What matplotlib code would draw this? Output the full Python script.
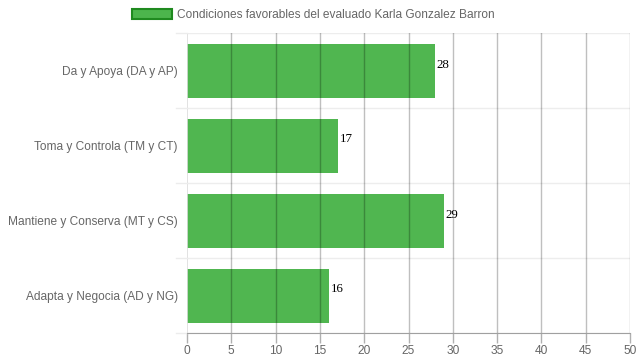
import matplotlib
matplotlib.use("Agg")
import matplotlib.pyplot as plt
from matplotlib.patches import Patch

categories = ["Da y Apoya (DA y AP)", "Toma y Controla (TM y CT)",
              "Mantiene y Conserva (MT y CS)", "Adapta y Negocia (AD y NG)"]
values = [28, 17, 29, 16]
series_label = "Condiciones favorables del evaluado Karla Gonzalez Barron"
xticks = list(range(0, 55, 5))

plt.rcParams['font.family'] = ['Liberation Sans', 'DejaVu Sans']

fig = plt.figure(figsize=(6.39, 3.6), dpi=100)
ax = fig.add_axes([187/639, 1-333/360, (630-187)/639, 300/360])

ypos = list(range(len(categories)))
ax.barh(ypos, values, height=0.72, color="#4CB54C", linewidth=0, zorder=1, alpha=0.98)
ax.set_ylim(len(categories)-0.5, -0.5)
ax.set_xlim(0, 50)
ax.set_xticks(xticks)
ax.set_yticks(ypos)
ax.set_yticklabels(categories)
ax.tick_params(axis='x', colors="#666666", labelsize=8.6, length=7, width=1, color="#b0b0b0", pad=2)
ax.tick_params(axis='y', colors="#666666", labelsize=8.6, length=0, pad=6.5)
for t in ax.get_xticklabels() + ax.get_yticklabels():
    t.set_color("#666666")

# grid
for x in xticks:
    if x == 0:
        ax.axvline(x, color="#dddddd", lw=1.2, zorder=2)
    else:
        ax.axvline(x, color="#000000", alpha=0.25, lw=1, zorder=2)
for b in [i - 0.5 for i in range(len(categories)+1)]:
    ax.axhline(b, color="#000000", alpha=0.07, lw=1, zorder=0)
    ax.plot([-0.025, 0], [b, b], transform=ax.get_yaxis_transform(), color="#ececec", lw=1, clip_on=False)

for s in ["top", "right", "left"]:
    ax.spines[s].set_visible(False)
ax.spines["bottom"].set_color("#a0a0a0")

for y, v in zip(ypos, values):
    ax.text(v + 0.2, y - 0.08, str(v), va='center', ha='left', fontsize=9.3,
            family=['Liberation Serif', 'DejaVu Serif'], color="black", zorder=3)

handle = Patch(facecolor="#4CB54C", edgecolor="#1f8a1f", linewidth=1.5)
fig.legend([handle], [series_label], loc='center', bbox_to_anchor=(0.49, 1-15/360),
           frameon=False, fontsize=8.6, labelcolor="#666666", handlelength=3.4, handleheight=0.9,
           handletextpad=0.4)

fig.savefig("out.png", dpi=100)
